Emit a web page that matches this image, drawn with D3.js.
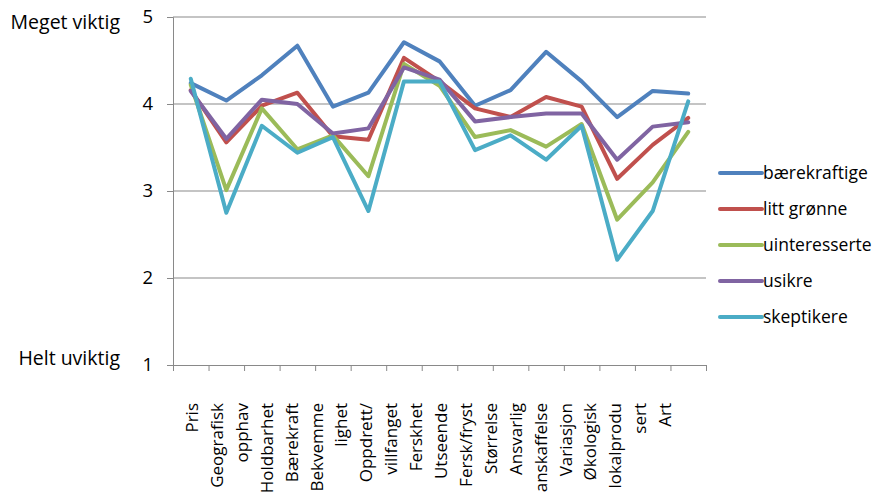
<!DOCTYPE html>
<html>
<head>
<meta charset="utf-8">
<script src="https://cdn.jsdelivr.net/npm/d3@7/dist/d3.min.js"></script>
<style>
  html, body { margin: 0; padding: 0; background: #fff; overflow: hidden; }
  svg { display: block; font-family: "Open Sans", sans-serif; }
</style>
</head>
<body>
<svg id="chart" width="872" height="492"></svg>
<script>
// Categories (with the wrapped label lines shown under the axis)
const categories = ["Pris", "Geografisk opphav", "Holdbarhet", "Bærekraft", "Bekvemmelighet",
  "Oppdrett/villfanget", "Ferskhet", "Utseende", "Fersk/fryst", "Størrelse",
  "Ansvarlig anskaffelse", "Variasjon", "Økologisk", "lokalprodusert", "Art"];
const labelLines = [["Pris"], ["Geografisk", "opphav"], ["Holdbarhet"], ["Bærekraft"], ["Bekvemme", "lighet"],
  ["Oppdrett/", "villfanget"], ["Ferskhet"], ["Utseende"], ["Fersk/fryst"], ["Størrelse"],
  ["Ansvarlig", "anskaffelse"], ["Variasjon"], ["Økologisk"], ["lokalprodu", "sert"], ["Art"]];

// Segment means per category
const baerekraftige = [4.24, 4.04, 4.33, 4.67, 3.97, 4.13, 4.71, 4.49, 3.98, 4.16, 4.60, 4.26, 3.85, 4.15, 4.12];
const littGronne    = [4.16, 3.56, 3.98, 4.13, 3.63, 3.59, 4.53, 4.26, 3.95, 3.85, 4.08, 3.97, 3.14, 3.53, 3.84];
const uinteresserte = [4.22, 3.01, 3.95, 3.48, 3.64, 3.17, 4.46, 4.21, 3.62, 3.70, 3.51, 3.77, 2.67, 3.10, 3.68];
const usikre        = [4.15, 3.60, 4.05, 4.00, 3.66, 3.72, 4.42, 4.28, 3.80, 3.85, 3.89, 3.89, 3.36, 3.74, 3.79];
const skeptikere    = [4.29, 2.75, 3.75, 3.44, 3.62, 2.77, 4.26, 4.26, 3.47, 3.64, 3.36, 3.75, 2.21, 2.77, 4.03];

const seriesNames = ["bærekraftige", "litt grønne", "uinteresserte", "usikre", "skeptikere"];
const seriesColors = ["#4F81BD", "#C0504D", "#9BBB59", "#8064A2", "#4BACC6"];
const yTicks = [1, 2, 3, 4, 5];
const yEndLabels = [{ v: 5, text: "Meget viktig" }, { v: 1, text: "Helt uviktig" }];

const series = [baerekraftige, littGronne, uinteresserte, usikre, skeptikere].map((vals, i) => ({
  name: seriesNames[i], color: seriesColors[i], values: vals
}));

const svg = d3.select("#chart");
const plotLeft = 173, plotRight = 706, plotTop = 17, plotBottom = 365;
const gridColor = "#898989";

const x = d3.scaleBand().domain(categories).range([plotLeft, plotRight]).paddingInner(0).paddingOuter(0);
const y = d3.scaleLinear().domain([1, 5]).range([plotBottom, plotTop]);
const cx = c => x(c) + x.bandwidth() / 2;

// Horizontal gridlines
svg.append("g").selectAll("line").data(yTicks.filter(t => t > 1)).join("line")
  .attr("x1", plotLeft).attr("x2", plotRight)
  .attr("y1", d => y(d)).attr("y2", d => y(d))
  .attr("stroke", gridColor).attr("stroke-width", 1);

// Left axis
const yAxis = d3.axisLeft(y).tickValues(yTicks).tickFormat(d3.format("d")).tickSize(6).tickPadding(14);
const gy = svg.append("g").attr("transform", `translate(${plotLeft},0)`).call(yAxis);
gy.select(".domain").attr("stroke", gridColor);
gy.selectAll(".tick line").attr("stroke", gridColor);
gy.selectAll(".tick text").attr("font-size", 18.5).attr("fill", "#000")
  .attr("font-family", "'Open Sans', sans-serif");

// Verbal anchors at the ends of the scale
svg.append("g").selectAll("text").data(yEndLabels).join("text")
  .attr("x", 120).attr("y", d => y(d.v) + (d.v === 5 ? 12 : 0))
  .attr("text-anchor", "end")
  .attr("font-size", 19.5).attr("fill", "#000")
  .text(d => d.text);

// Bottom axis with ticks on category boundaries
const bx = d3.scaleLinear().domain([0, categories.length]).range([plotLeft, plotRight]);
const gx = svg.append("g").attr("transform", `translate(0,${plotBottom})`)
  .call(d3.axisBottom(bx).tickValues(d3.range(categories.length + 1)).tickSize(6).tickFormat(""));
gx.select(".domain").attr("stroke", gridColor);
gx.selectAll(".tick line").attr("stroke", gridColor);

// Rotated category labels, one column per label line
const flatLines = labelLines.flat();
const lx = d3.scalePoint().domain(d3.range(flatLines.length)).range([192, 665]);
svg.append("g").selectAll("text").data(flatLines).join("text")
  .attr("transform", (d, i) => `translate(${lx(i)},403) rotate(-90)`)
  .attr("text-anchor", "end")
  .attr("dy", "0.36em")
  .attr("font-size", 17).attr("fill", "#000")
  .text(d => d);

// Series lines
const line = d3.line().x((d, i) => cx(categories[i])).y(d => y(d));
svg.append("g").selectAll("path").data(series).join("path")
  .attr("d", d => line(d.values))
  .attr("fill", "none")
  .attr("stroke", d => d.color)
  .attr("stroke-width", 4)
  .attr("stroke-linejoin", "round")
  .attr("stroke-linecap", "round");

// Legend
const legend = svg.append("g").selectAll("g").data(series).join("g")
  .attr("transform", (d, i) => `translate(720,${173 + i * 36})`);
legend.append("line").attr("x1", 0).attr("x2", 42)
  .attr("stroke", d => d.color).attr("stroke-width", 4).attr("stroke-linecap", "round");
legend.append("text").attr("x", 43).attr("dy", "0.36em")
  .attr("font-size", 17.5).attr("fill", "#000")
  .text(d => d.name);
</script>
</body>
</html>
